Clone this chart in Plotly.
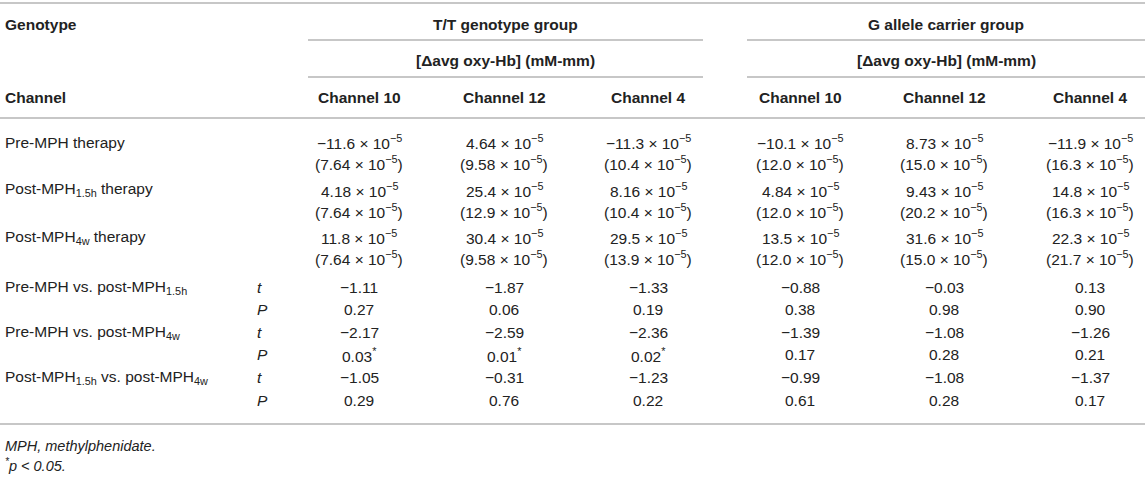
import plotly.graph_objects as go

W, H = 1145, 486
FONT = "Liberation Sans, Arial, Helvetica, sans-serif"
TXT = "#222222"
LINE = "#b4b4b4"

# ---- data ----
groups = ["T/T genotype group", "G allele carrier group"]
unit_label = "[Δavg oxy-Hb] (mM-mm)"
channels = ["Channel 10", "Channel 12", "Channel 4"]
therapy_rows = ["Pre-MPH therapy", "Post-MPH<sub>1.5h</sub> therapy", "Post-MPH<sub>4w</sub> therapy"]
mean_tt = [[-11.6, 4.64, -11.3], [4.18, 25.4, 8.16], [11.8, 30.4, 29.5]]
sd_tt = [[7.64, 9.58, 10.4], [7.64, 12.9, 10.4], [7.64, 9.58, 13.9]]
mean_g = [[-10.1, 8.73, -11.9], [4.84, 9.43, 14.8], [13.5, 31.6, 22.3]]
sd_g = [[12.0, 15.0, 16.3], [12.0, 20.2, 16.3], [12.0, 15.0, 21.7]]
comparisons = ["Pre-MPH vs. post-MPH<sub>1.5h</sub>", "Pre-MPH vs. post-MPH<sub>4w</sub>",
               "Post-MPH<sub>1.5h</sub> vs. post-MPH<sub>4w</sub>"]
t_tt = [[-1.11, -1.87, -1.33], [-2.17, -2.59, -2.36], [-1.05, -0.31, -1.23]]
p_tt = [[0.27, 0.06, 0.19], [0.03, 0.01, 0.02], [0.29, 0.76, 0.22]]
t_g = [[-0.88, -0.03, 0.13], [-1.39, -1.08, -1.26], [-0.99, -1.08, -1.37]]
p_g = [[0.38, 0.98, 0.90], [0.17, 0.28, 0.21], [0.61, 0.28, 0.17]]
footnotes = ["MPH, methylphenidate.", "<sup>*</sup>p < 0.05."]

# ---- layout geometry ----
col_x = [359, 504, 648, 800, 944, 1090]
group_span = [(308, 703), (747, 1145)]
label_x = 3
stat_x = 255
y_top_rule = 3
y_genotype = 24
y_rule1 = 40
y_unit = 60
y_rule2 = 77
y_channel = 97
y_rule3 = 118
y_pair0 = 142
pair_gap = 21
pair_step = 47.5
y_stat0 = 287
stat_step = 22.6
y_rule4 = 424
y_foot = [446, 465]
FS = 15.5


def num(v):
    s = f"{abs(v):.1f}" if abs(v) >= 10 else f"{abs(v):.2f}"
    return ("−" if v < 0 else "") + s


def sci(v):
    return f"{num(v)} × 10<sup>−5</sup>"


def pval(v):
    return f"{v:.2f}" + ("<sup>*</sup>" if v < 0.05 else "")


fig = go.Figure()
ann = []


def add(text, x, y, anchor="center", bold=False, italic=False, size=FS):
    t = text
    if bold:
        t = f"<b>{t}</b>"
    if italic:
        t = f"<i>{t}</i>"
    ann.append(dict(text=t, x=x, y=y, xref="x", yref="y", xanchor=anchor, yanchor="middle",
                    showarrow=False, font=dict(family=FONT, size=size, color=TXT)))


def hline(y, x0=0, x1=W):
    fig.add_shape(type="line", x0=x0, x1=x1, y0=y, y1=y, xref="x", yref="y",
                  line=dict(color=LINE, width=1.6))


# rules
hline(y_top_rule)
for a, b in group_span:
    hline(y_rule1, a, b)
    hline(y_rule2, a, b)
hline(y_rule3)
hline(y_rule4)

# header
add("Genotype", label_x, y_genotype, "left", bold=True)
add("Channel", label_x, y_channel, "left", bold=True)
for gi, g in enumerate(groups):
    cx = (group_span[gi][0] + group_span[gi][1]) / 2
    add(g, cx, y_genotype, bold=True)
    add(unit_label, cx, y_unit, bold=True)
    for ci, ch in enumerate(channels):
        add(ch, col_x[gi * 3 + ci], y_channel, bold=True)

# therapy rows
for r, lab in enumerate(therapy_rows):
    y1 = y_pair0 + r * pair_step
    y2 = y1 + pair_gap
    add(lab, label_x, y1, "left")
    for gi, (m, s) in enumerate([(mean_tt, sd_tt), (mean_g, sd_g)]):
        for ci in range(3):
            x = col_x[gi * 3 + ci]
            add(sci(m[r][ci]), x, y1)
            add("(" + sci(s[r][ci]) + ")", x, y2)

# comparison rows
for r, lab in enumerate(comparisons):
    yt = y_stat0 + 2 * r * stat_step
    yp = yt + stat_step
    add(lab, label_x, yt, "left")
    add("t", stat_x, yt, "left", italic=True)
    add("P", stat_x, yp, "left", italic=True)
    for gi, (tv, pv) in enumerate([(t_tt, p_tt), (t_g, p_g)]):
        for ci in range(3):
            x = col_x[gi * 3 + ci]
            add(num(tv[r][ci]), x, yt)
            add(pval(pv[r][ci]), x, yp)

# footnotes
for i, f in enumerate(footnotes):
    add(f, label_x, y_foot[i], "left", italic=True, size=14.5)

fig.update_layout(
    annotations=ann,
    width=W, height=H,
    margin=dict(l=0, r=0, t=0, b=0),
    paper_bgcolor="white", plot_bgcolor="white",
    xaxis=dict(range=[0, W], visible=False, fixedrange=True),
    yaxis=dict(range=[H, 0], visible=False, fixedrange=True),
    showlegend=False,
)
fig.write_html(
    "out.html",
    config={"displayModeBar": False},
    post_script="document.body.style.margin='0';document.body.style.overflow='hidden';",
)
